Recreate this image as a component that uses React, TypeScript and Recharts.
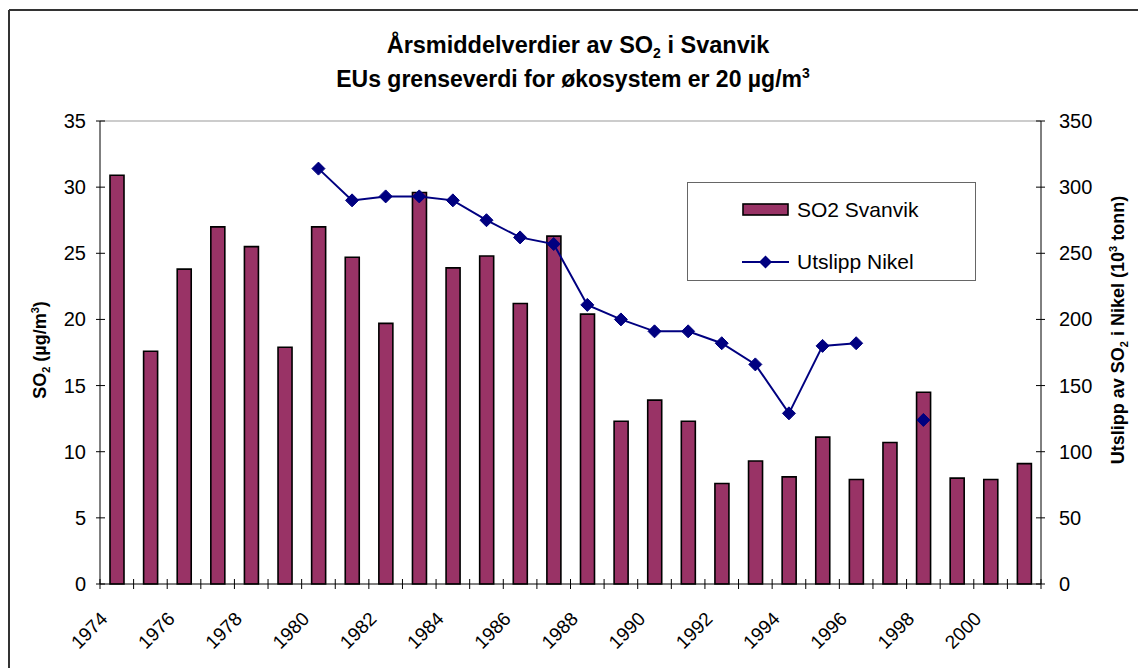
import React from "react";
import {
  ComposedChart,
  Bar,
  Line,
  XAxis,
  YAxis,
  Legend,
  ReferenceLine,
} from "recharts";

const years = [
  "1974", "1975", "1976", "1977", "1978", "1979", "1980", "1981", "1982", "1983",
  "1984", "1985", "1986", "1987", "1988", "1989", "1990", "1991", "1992", "1993",
  "1994", "1995", "1996", "1997", "1998", "1999", "2000", "2001",
];

// SO2 i Svanvik, µg/m3
const so2Svanvik = [
  30.9, 17.6, 23.8, 27.0, 25.5, 17.9, 27.0, 24.7, 19.7, 29.6,
  23.9, 24.8, 21.2, 26.3, 20.4, 12.3, 13.9, 12.3, 7.6, 9.3,
  8.1, 11.1, 7.9, 10.7, 14.5, 8.0, 7.9, 9.1,
];

// utslipp fra Nikel, 1000 tonn
const utslippNikel: (number | null)[] = [
  null, null, null, null, null, null, 314, 290, 293, 293,
  290, 275, 262, 257, 211, 200, 191, 191, 182, 166,
  129, 180, 182, null, 124, null, null, null,
];

const leftTicks = [0, 5, 10, 15, 20, 25, 30, 35];
const rightTicks = [0, 50, 100, 150, 200, 250, 300, 350];

const data = years.map((year, i) => ({
  year,
  so2: so2Svanvik[i],
  nikel: utslippNikel[i],
}));

const FONT = "'Liberation Sans', Arial, sans-serif";
const BAR = "#993366";
const NAVY = "#000080";

const LeftTick = (props: any) => {
  const { x, y, payload } = props;
  return (
    <g>
      <line x1={x - 4} x2={x + 5} y1={y} y2={y} stroke="#000" />
      <text x={x - 14} y={y} textAnchor="end" dominantBaseline="central" fontSize={20} fontFamily={FONT} fill="#000">
        {payload.value}
      </text>
    </g>
  );
};

const RightTick = (props: any) => {
  const { x, y, payload } = props;
  return (
    <g>
      <line x1={x - 5} x2={x + 4} y1={y} y2={y} stroke="#000" />
      <text x={x + 18} y={y} textAnchor="start" dominantBaseline="central" fontSize={20} fontFamily={FONT} fill="#000">
        {payload.value}
      </text>
    </g>
  );
};

const YearTick = (props: any) => {
  const { x, y, payload, index } = props;
  const half = payload.offset || 16.8;
  const tx = x - 8;
  const ty = y + 36;
  return (
    <g>
      <line x1={x - half} x2={x - half} y1={y - 5} y2={y + 5} stroke="#000" />
      {index === years.length - 1 && (
        <line x1={x + half} x2={x + half} y1={y - 5} y2={y + 5} stroke="#000" />
      )}
      {index % 2 === 0 && (
        <text x={tx} y={ty} textAnchor="end" transform={`rotate(-45 ${tx} ${ty})`} fontSize={19} fontFamily={FONT} fill="#000">
          {payload.value}
        </text>
      )}
    </g>
  );
};

const Diamond = (props: any) => {
  const { cx, cy, index } = props;
  if (cx == null || cy == null || props.value == null) return <g key={`d${index}`} />;
  const r = 6.5;
  return (
    <path
      key={`d${index}`}
      d={`M${cx},${cy - r}L${cx + r},${cy}L${cx},${cy + r}L${cx - r},${cy}Z`}
      fill={NAVY}
      stroke={NAVY}
    />
  );
};

const renderLegend = (props: any) => {
  const items = props.payload ?? [];
  return (
    <div
      style={{
        width: 287,
        height: 97,
        border: "1px solid #666",
        background: "#fff",
        position: "relative",
        fontFamily: FONT,
        fontSize: 21,
        color: "#000",
      }}
    >
      {items.map((entry: any, i: number) => (
        <div
          key={i}
          style={{ position: "absolute", left: 54, top: i === 0 ? 14 : 66, height: 26, display: "flex", alignItems: "center" }}
        >
          <svg width={48} height={16}>
            {entry.type === "rect" ? (
              <rect x={1} y={2} width={45} height={11} fill={BAR} stroke="#000" strokeWidth={1.6} />
            ) : (
              <g>
                <line x1={0} x2={47} y1={8} y2={8} stroke={NAVY} strokeWidth={2} />
                <path d="M23.5,1.5L30,8L23.5,14.5L17,8Z" fill={NAVY} />
              </g>
            )}
          </svg>
          <span style={{ marginLeft: 7 }}>{entry.value}</span>
        </div>
      ))}
    </div>
  );
};

export default function App() {
  return (
    <div style={{ position: "fixed", left: 0, top: 0, width: 1138, height: 668, background: "#fff", overflow: "hidden" }}>
      <ComposedChart
        width={1138}
        height={668}
        data={data}
        margin={{ top: 121, right: 37, bottom: 44, left: 40 }}
        barSize={14}
      >
        <XAxis
          dataKey="year"
          xAxisId={0}
          height={40}
          interval={0}
          tickSize={0}
          tickMargin={0}
          tickLine={false}
          axisLine={{ stroke: "#000" }}
          tick={<YearTick />}
        />
        <YAxis
          yAxisId="left"
          orientation="left"
          width={60}
          domain={[0, 35]}
          ticks={leftTicks}
          tickSize={0}
          tickMargin={0}
          tickLine={false}
          axisLine={{ stroke: "#000" }}
          tick={<LeftTick />}
        />
        <YAxis
          yAxisId="right"
          orientation="right"
          width={60}
          domain={[0, 350]}
          ticks={rightTicks}
          tickSize={0}
          tickMargin={0}
          tickLine={false}
          axisLine={{ stroke: "#000" }}
          tick={<RightTick />}
        />
        <ReferenceLine yAxisId="left" y={35} stroke="#999" />
        <Bar
          yAxisId="left"
          dataKey="so2"
          name="SO2 Svanvik"
          fill={BAR}
          stroke="#000"
          strokeWidth={1.6}
          legendType="rect"
          isAnimationActive={false}
        />
        <Line
          yAxisId="right"
          dataKey="nikel"
          name="Utslipp Nikel"
          stroke={NAVY}
          strokeWidth={2}
          dot={Diamond}
          activeDot={false}
          connectNulls={false}
          legendType="line"
          isAnimationActive={false}
        />
        <Legend
          layout="vertical"
          align="center"
          verticalAlign="middle"
          content={renderLegend}
          wrapperStyle={{ left: 687, top: 182, width: 289, height: 99 }}
        />
      </ComposedChart>

      <svg
        width={1138}
        height={668}
        style={{ position: "absolute", left: 0, top: 0, pointerEvents: "none" }}
        fontFamily={FONT}
      >
        <line x1={9} x2={1138} y1={10} y2={10} stroke="#333" strokeWidth={2} />
        <line x1={9} x2={9} y1={10} y2={668} stroke="#333" strokeWidth={2} />

        <text x={578} y={53} textAnchor="middle" fontSize={23.5} fontWeight="bold" fill="#000">
          Årsmiddelverdier av SO
          <tspan fontSize={14} dy={5}>2</tspan>
          <tspan dy={-5}> i Svanvik</tspan>
        </text>
        <text x={573} y={87} textAnchor="middle" fontSize={23} fontWeight="bold" fill="#000">
          EUs grenseverdi for økosystem er 20 µg/m
          <tspan fontSize={14} dy={-9}>3</tspan>
        </text>

        <text transform="translate(46,350) rotate(-90)" textAnchor="middle" fontSize={18} fontWeight="bold" fill="#000">
          SO
          <tspan fontSize={11} dy={4}>2</tspan>
          <tspan dy={-4}> (µg/m</tspan>
          <tspan fontSize={11} dy={-7}>3</tspan>
          <tspan dy={7}>)</tspan>
        </text>
        <text transform="translate(1124,330) rotate(-90)" textAnchor="middle" fontSize={18} fontWeight="bold" fill="#000">
          Utslipp av SO
          <tspan fontSize={11} dy={4}>2</tspan>
          <tspan dy={-4}> i Nikel (10</tspan>
          <tspan fontSize={11} dy={-7}>3</tspan>
          <tspan dy={7}> tonn)</tspan>
        </text>
      </svg>
    </div>
  );
}
